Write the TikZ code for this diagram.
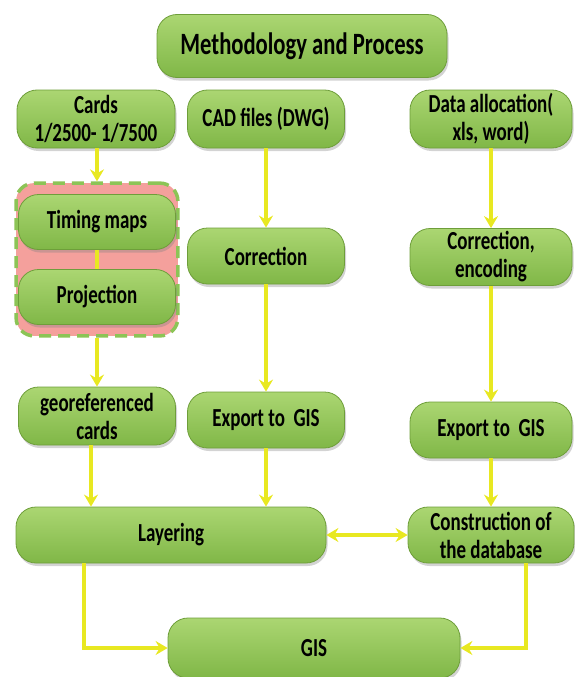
\documentclass[tikz,border=0pt]{standalone}
\usepackage{fontspec}
\setmainfont{Carlito}[FakeStretch=0.73]
\usetikzlibrary{arrows.meta,shadows,fit,backgrounds}
\definecolor{boxtop}{HTML}{ABD672}
\definecolor{boxbot}{HTML}{80B747}
\definecolor{boxline}{HTML}{6E9E3A}
\definecolor{grppink}{HTML}{F4A09C}
\definecolor{grpline}{HTML}{8CC456}
\definecolor{flowyel}{HTML}{E8E821}
\tikzset{
	stage/.style={draw=boxline, line width=0.8pt, rounded corners=20pt, top color=boxtop, bottom color=boxbot,
		drop shadow={shadow xshift=1.5pt, shadow yshift=-3pt, opacity=0.35},
		inner sep=0pt, align=center, font=\bfseries\fontsize{26}{28}\selectfont},
	headstage/.style={stage, font=\bfseries\fontsize{31}{34}\selectfont},
	grpbox/.style={fill=grppink, draw=grpline, line width=3.5pt, dash pattern=on 12pt off 7pt, rounded corners=18pt},
	flow/.style={draw=flowyel, line width=3.4pt, -{Stealth[length=12pt,width=14pt,inset=4pt]}},
	flowboth/.style={draw=flowyel, line width=3.4pt, {Stealth[length=12pt,width=14pt,inset=4pt]}-{Stealth[length=12pt,width=14pt,inset=4pt]}},
	link/.style={draw=flowyel, line width=3.4pt},
}
\begin{document}
\begin{tikzpicture}[x=1pt,y=-1pt]
			\useasboundingbox (0,0) rectangle (574,677);
			\node[headstage, minimum width=290pt, minimum height=63pt] (title) at (302,46) {Methodology and Process};

			\node[stage, minimum width=158pt, minimum height=58pt] (cards) at (96,119) {Cards\\1/2500- 1/7500};
			\node[stage, minimum width=157pt, minimum height=58pt] (cad) at (266,119) {CAD files (DWG)};
			\node[stage, minimum width=162pt, minimum height=58pt] (data) at (491,119) {Data allocation(\\xls, word)};

			\node[stage, minimum width=157pt, minimum height=55pt] (timing) at (97,222) {Timing maps};
			\node[stage, minimum width=157pt, minimum height=55pt] (proj) at (97,297) {Projection};
			\begin{scope}[on background layer]
				\node[grpbox, inner xsep=2pt, inner ysep=11pt, fit=(timing)(proj)] (grp) {};
			\end{scope}

			\node[stage, minimum width=157pt, minimum height=56pt] (corr) at (266,256) {Correction};
			\node[stage, minimum width=162pt, minimum height=57pt] (correnc) at (491,257) {Correction,\\encoding};

			\node[stage, minimum width=157pt, minimum height=58pt] (georef) at (97,416) {georeferenced\\cards};
			\node[stage, minimum width=157pt, minimum height=56pt] (expmid) at (266,420) {Export to~ GIS};
			\node[stage, minimum width=162pt, minimum height=56pt] (expright) at (491,430) {Export to~ GIS};

			\node[stage, minimum width=310pt, minimum height=56pt] (layer) at (171,535) {Layering};
			\node[stage, minimum width=166pt, minimum height=56pt] (constr) at (491,535) {Construction of\\the database};

			\node[stage, minimum width=292pt, minimum height=60pt] (gis) at (314,648) {GIS};

			\draw[flow] (cards.south -| grp.north) -- (grp.north);
			\draw[link] (timing) -- (proj);
			\draw[flow] (grp.south) -- (georef.north);
			\draw[flow] (cad) -- (corr);
			\draw[flow] (corr) -- (expmid);
			\draw[flow] (data) -- (correnc);
			\draw[flow] (correnc) -- (expright);
			\draw[flow] ([xshift=-6pt]georef.south) -- ([xshift=-6pt]georef.south |- layer.north);
			\draw[flow] (expmid.south) -- (expmid.south |- layer.north);
			\draw[flow] (expright) -- (constr);
			\draw[flowboth] (layer) -- (constr);
			\draw[flow] ([xshift=-87pt]layer.south) |- (gis.west);
			\draw[flow] ([xshift=35pt]constr.south) |- (gis.east);
\end{tikzpicture}
\end{document}
